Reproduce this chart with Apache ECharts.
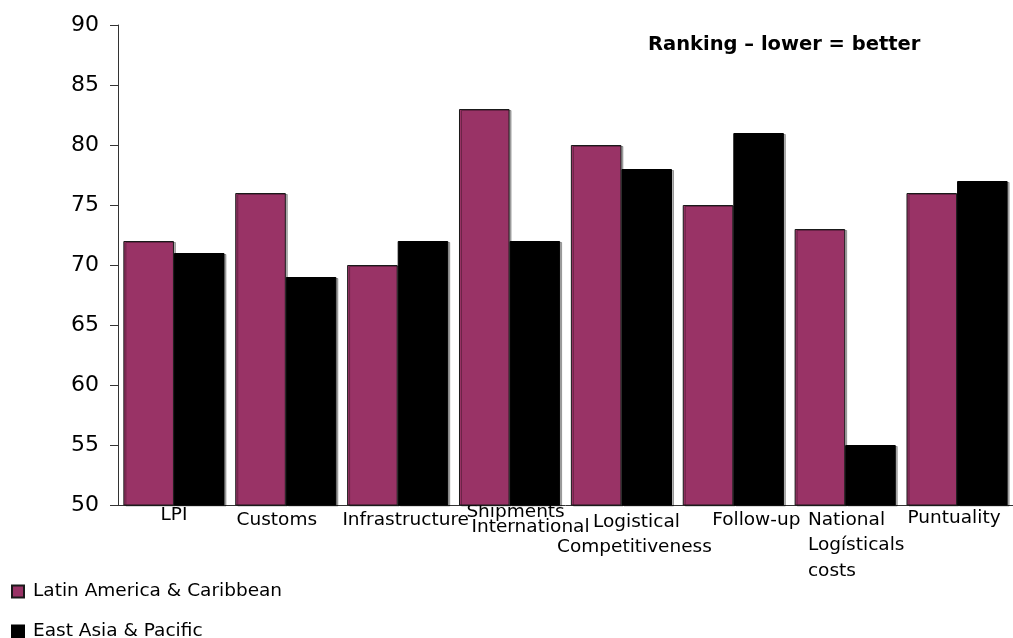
<!DOCTYPE html>
<html>
<head>
<meta charset="utf-8">
<script src="https://cdn.jsdelivr.net/npm/echarts@6/dist/echarts.min.js"></script>
<style>
  html, body { margin: 0; padding: 0; background: #fff; }
  #chart { width: 1013px; height: 638px; }
</style>
</head>
<body>
<div id="chart"></div>
<script>
// categories (each line of a label is a separate entry)
const categories = [
    ['LPI'],
    ['Customs'],
    ['Infrastructure'],
    ['Shipments', 'International'],
    ['Logistical', 'Competitiveness'],
    ['Follow-up'],
    ['National', 'Logísticals', 'costs'],
    ['Puntuality']
];
const latinAmerica = [72, 76, 70, 83, 80, 75, 73, 76];
const eastAsia = [71, 69, 72, 72, 78, 81, 55, 77];
const yTicks = { min: 50, max: 90, step: 5 };

// label nudges to reproduce the staggered layout of the original
const labelStyles = [
    [{ lineHeight: 20, padding: [0, 0, 0, 0] }],
    [{ lineHeight: 20, padding: [10, 18, 0, 0] }],
    [{ lineHeight: 20, padding: [10, 0, 0, 16] }],
    [{ lineHeight: 15, padding: [0, 0, 0, 12] }, { lineHeight: 15, padding: [0, 0, 0, 42] }],
    [{ lineHeight: 28, padding: [6, 0, 0, 30] }, { lineHeight: 28, padding: [0, 0, 0, 26] }],
    [{ lineHeight: 20, padding: [10, 0, 0, 46] }],
    [{ lineHeight: 27, padding: [3, 0, 0, 22], align: 'left' }, { lineHeight: 27, padding: [0, 0, 0, 22], align: 'left' }, { lineHeight: 25, padding: [0, 0, 0, 22], align: 'left' }],
    [{ lineHeight: 20, padding: [6, 6, 0, 0] }]
];

const rich = {};
labelStyles.forEach((lines, i) => {
    lines.forEach((s, j) => {
        rich['c' + i + '_' + j] = Object.assign({
            fontFamily: 'DejaVu Sans',
            fontSize: 18.5,
            color: '#000'
        }, s);
    });
});

const myChart = echarts.init(document.getElementById('chart'));
myChart.setOption({
    animation: false,
    textStyle: { fontFamily: 'DejaVu Sans' },
    title: {
        text: 'Ranking – lower = better',
        left: 643,
        top: 30,
        textStyle: {
            fontFamily: 'DejaVu Sans',
            fontSize: 19.5,
            fontWeight: 'bold',
            color: '#000'
        }
    },
    legend: {
        orient: 'vertical',
        left: 6,
        top: 577,
        height: 120,
        icon: 'rect',
        itemWidth: 12,
        itemHeight: 12,
        itemGap: 21,
        textStyle: { fontFamily: 'DejaVu Sans', fontSize: 18.5, color: '#000', padding: [0, 0, 0, 4] },
        data: ['Latin America & Caribbean', 'East Asia & Pacific']
    },
    grid: {
        left: 118,
        right: -10,
        top: 25,
        bottom: 133,
        containLabel: false
    },
    xAxis: {
        type: 'category',
        data: categories.map(c => c.join('\n')),
        axisLine: { lineStyle: { color: '#333', width: 1 } },
        axisTick: { length: 5, lineStyle: { color: '#333' } },
        axisLabel: {
            interval: 0,
            margin: 0,
            hideOverlap: false,
            formatter: (value, index) => value.split('\n')
                .map((line, j) => '{c' + index + '_' + j + '|' + line + '}')
                .join('\n'),
            rich: rich
        }
    },
    yAxis: {
        type: 'value',
        min: yTicks.min,
        max: yTicks.max,
        interval: yTicks.step,
        axisLine: { show: true, lineStyle: { color: '#333', width: 1 } },
        axisTick: { show: true, length: 8, lineStyle: { color: '#333' } },
        axisLabel: { fontFamily: 'DejaVu Sans', fontSize: 22, color: '#000', margin: 19 },
        splitLine: { show: false }
    },
    series: [
        {
            name: 'Latin America & Caribbean',
            type: 'bar',
            data: latinAmerica,
            barGap: '0%',
            barCategoryGap: '9.6%',
            itemStyle: {
                color: '#993366',
                borderColor: '#1a1a1a',
                borderWidth: 1,
                shadowColor: 'rgba(0,0,0,0.3)',
                shadowOffsetX: 2,
                shadowOffsetY: 1
            }
        },
        {
            name: 'East Asia & Pacific',
            type: 'bar',
            data: eastAsia,
            barGap: '0%',
            barCategoryGap: '9.6%',
            itemStyle: {
                color: '#000000',
                borderColor: '#000000',
                borderWidth: 1,
                shadowColor: 'rgba(0,0,0,0.3)',
                shadowOffsetX: 2,
                shadowOffsetY: 1
            }
        }
    ]
});
</script>
</body>
</html>
